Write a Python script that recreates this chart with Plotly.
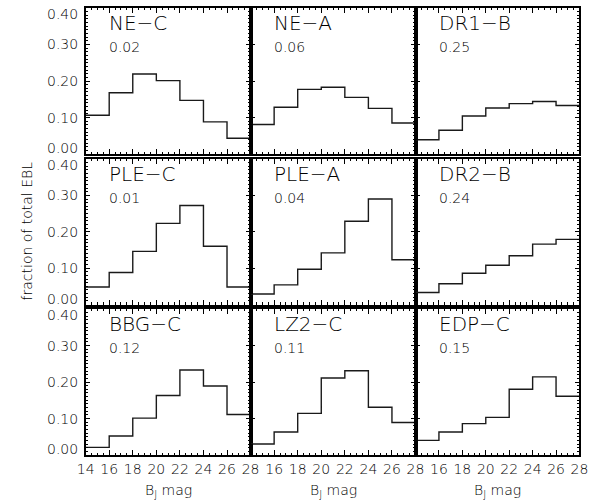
import plotly.graph_objects as go

# Magnitude bin edges (B_J), 2-mag bins from 14 to 28
bin_edges = [14, 16, 18, 20, 22, 24, 26, 28]

# Fraction of total EBL contributed by each magnitude bin, per model
ne_c = [0.106, 0.168, 0.219, 0.201, 0.147, 0.088, 0.043]
ne_a = [0.081, 0.128, 0.177, 0.183, 0.155, 0.125, 0.085]
dr1_b = [0.039, 0.065, 0.104, 0.126, 0.138, 0.144, 0.133]
ple_c = [0.048, 0.088, 0.146, 0.223, 0.272, 0.160, 0.048]
ple_a = [0.029, 0.054, 0.097, 0.142, 0.229, 0.290, 0.123]
dr2_b = [0.033, 0.057, 0.086, 0.108, 0.134, 0.166, 0.179]
bbg_c = [0.021, 0.052, 0.101, 0.163, 0.233, 0.189, 0.111]
lz2_c = [0.030, 0.063, 0.114, 0.211, 0.231, 0.131, 0.089]
edp_c = [0.040, 0.063, 0.086, 0.103, 0.180, 0.214, 0.161]

model_names = ["NE\u2212C", "NE\u2212A", "DR1\u2212B",
               "PLE\u2212C", "PLE\u2212A", "DR2\u2212B",
               "BBG\u2212C", "LZ2\u2212C", "EDP\u2212C"]
model_values = [ne_c, ne_a, dr1_b, ple_c, ple_a, dr2_b, bbg_c, lz2_c, edp_c]
beyond_fraction = ["0.02", "0.06", "0.25", "0.01", "0.04", "0.24",
                   "0.12", "0.11", "0.15"]

y_ticks = [0.0, 0.1, 0.2, 0.3, 0.4]
x_ticks_first = [14, 16, 18, 20, 22, 24, 26, 28]
x_ticks_rest = [16, 18, 20, 22, 24, 26, 28]

W, H = 604, 502
col_px = [(79, 249), (249, 419), (419, 588)]
row_px = [(8, 154), (159, 304.5), (309, 455)]

FONT = "DejaVu Sans"
INK = "black"
THIN = 300

fig = go.Figure()
annotations = []

for k in range(9):
    r, c = divmod(k, 3)
    idx = "" if k == 0 else str(k + 1)
    xa, ya = "x" + idx, "y" + idx
    vals = model_values[k]

    fig.add_trace(go.Scatter(
        x=bin_edges, y=vals + [vals[-1]],
        mode="lines", line=dict(shape="hv", color="#1a1a1a", width=1.4),
        xaxis=xa, yaxis=ya, showlegend=False, hoverinfo="skip",
    ))

    x0, x1 = col_px[c]
    y0, y1 = row_px[r]
    xdom = [x0 / W, x1 / W]
    ydom = [1 - y1 / H, 1 - y0 / H]

    bottom = r == 2
    xt = x_ticks_first if c == 0 else x_ticks_rest

    fig.update_layout(**{
        "xaxis" + idx: dict(
            domain=xdom, anchor=ya, range=[14, 28],
            tickmode="array", tickvals=xt, showticklabels=bottom,
            ticks="inside", ticklen=5, tickwidth=1, tickcolor=INK,
            minor=dict(ticks="inside", dtick=0.5, tick0=14, ticklen=2.5,
                       tickwidth=1, tickcolor=INK),
            showline=True, linecolor=INK, linewidth=1.5, mirror="allticks",
            showgrid=False, zeroline=False,
            tickfont=dict(family=FONT, size=14, color=INK, weight=THIN),
        ),
        "yaxis" + idx: dict(
            domain=ydom, anchor=xa, range=[0, 0.40],
            tickmode="array", tickvals=y_ticks, showticklabels=False,
            ticks="inside", ticklen=5, tickwidth=1, tickcolor=INK,
            minor=dict(ticks="inside", dtick=0.01, tick0=0, ticklen=2.5,
                       tickwidth=1, tickcolor=INK),
            showline=True, linecolor=INK, linewidth=1.5, mirror="allticks",
            showgrid=False, zeroline=False,
        ),
    })

    # model name and fraction beyond the plotted range
    annotations.append(dict(
        x=15.85, y=0.360, xref=xa, yref=ya, text=model_names[k],
        showarrow=False, xanchor="left", yanchor="middle",
        font=dict(family=FONT, size=20, color=INK, weight=THIN),
    ))
    annotations.append(dict(
        x=15.85, y=0.294, xref=xa, yref=ya, text=beyond_fraction[k],
        showarrow=False, xanchor="left", yanchor="middle",
        font=dict(family=FONT, size=14, color=INK, weight=THIN),
    ))

    # y tick labels on the left column, end labels kept inside the panel height
    if c == 0:
        for v in y_ticks:
            shift = 6 if v == 0.0 else (-6 if v == 0.4 else 0)
            annotations.append(dict(
                x=73 / W, y=v, xref="paper", yref=ya, text=f"{v:.2f}",
                showarrow=False, xanchor="right", yanchor="middle", yshift=shift,
                font=dict(family=FONT, size=14, color=INK, weight=THIN),
            ))

    if bottom:
        annotations.append(dict(
            x=(x0 + x1) / 2 / W, y=1 - 491 / H, xref="paper", yref="paper",
            text="B<sub>J</sub> mag", showarrow=False,
            xanchor="center", yanchor="middle",
            font=dict(family=FONT, size=14, color=INK, weight=THIN),
        ))

annotations.append(dict(
    x=19 / W, y=1 - 231 / H, xref="paper", yref="paper",
    text="fraction of total EBL", textangle=-90, showarrow=False,
    xanchor="center", yanchor="middle",
    font=dict(family=FONT, size=14, color=INK, weight=THIN),
))

fig.update_layout(
    width=W, height=H,
    margin=dict(l=0, r=0, t=0, b=0),
    paper_bgcolor="white", plot_bgcolor="white",
    annotations=annotations,
    showlegend=False,
)

fig.write_html("out.html")
